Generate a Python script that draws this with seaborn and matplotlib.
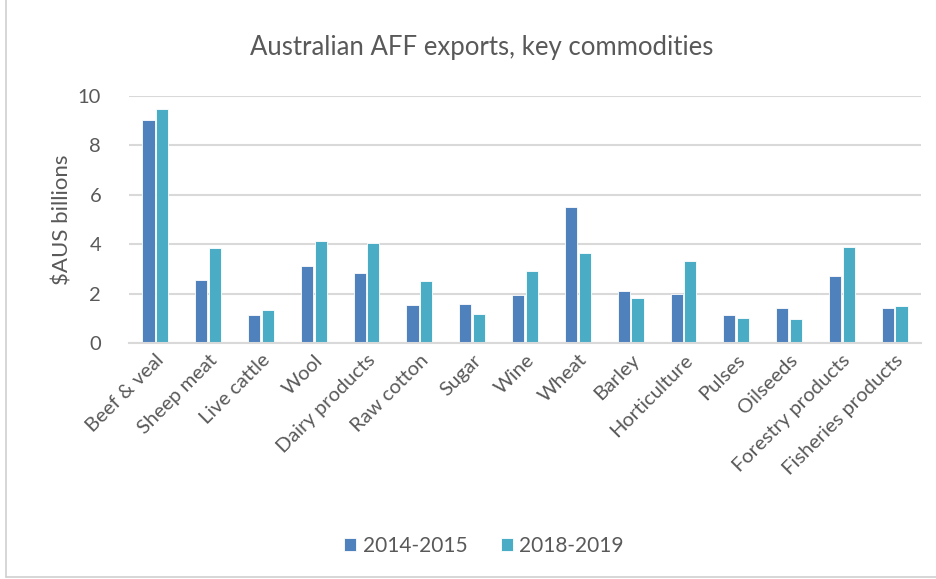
import numpy as np
import pandas as pd
import matplotlib
matplotlib.use("Agg")
import matplotlib.pyplot as plt
import seaborn as sns

# values ($AUS billions)
commodities = ["Beef & veal", "Sheep meat", "Live cattle", "Wool", "Dairy products",
               "Raw cotton", "Sugar", "Wine", "Wheat", "Barley", "Horticulture",
               "Pulses", "Oilseeds", "Forestry products", "Fisheries products"]
exports_2014 = [9.03, 2.57, 1.14, 3.12, 2.85, 1.53, 1.59, 1.95, 5.50, 2.09, 1.99, 1.14, 1.41, 2.73, 1.41]
exports_2018 = [9.46, 3.84, 1.32, 4.14, 4.07, 2.53, 1.19, 2.92, 3.65, 1.81, 3.34, 1.00, 0.96, 3.88, 1.49]
periods = ["2014-2015", "2018-2019"]

df = pd.DataFrame({
    "Commodity": commodities * 2,
    "Period": [periods[0]] * len(commodities) + [periods[1]] * len(commodities),
    "Value": exports_2014 + exports_2018,
})

sns.set_theme(style="white")
plt.rcParams['font.family'] = ['Lato', 'DejaVu Sans']
text_col = "#595959"

fig = plt.figure(figsize=(9.36, 5.79), dpi=100)
ax = fig.add_axes([0.1378, 0.4076, 0.8462, 0.4264])

sns.barplot(data=df, x="Commodity", y="Value", hue="Period",
            palette=["#4F81BD", "#4BACC6"], saturation=1, width=0.52, gap=0.12,
            edgecolor="white", linewidth=0.6, ax=ax)

ax.set_ylim(0, 10)
ax.set_yticks([0, 2, 4, 6, 8, 10])
ax.yaxis.grid(True, color="#D9D9D9", linewidth=1.5)
ax.set_axisbelow(True)
for s in ["top", "right", "left"]:
    ax.spines[s].set_visible(False)
ax.spines["bottom"].set_color("#D9D9D9")
ax.spines["bottom"].set_linewidth(1.5)
ax.tick_params(axis="both", length=0, colors=text_col, labelsize=14.5)
ax.tick_params(axis="y", pad=20)
ax.tick_params(axis="x", pad=6)
plt.setp(ax.get_xticklabels(), rotation=45, ha="right", rotation_mode="anchor")

ax.set_xlabel("")
ax.set_ylabel("$AUS billions", fontsize=16, color=text_col, labelpad=4)
fig.text(0.515, 0.918, "Australian AFF exports, key commodities", ha="center", va="center",
         fontsize=18.5, color=text_col)

leg = ax.legend(loc="center", bbox_to_anchor=(0.517, 0.057), bbox_transform=fig.transFigure,
                ncol=2, frameon=False, fontsize=15, handlelength=0.6, handleheight=0.6,
                handletextpad=0.3, columnspacing=1.6)
for t in leg.get_texts():
    t.set_color(text_col)

# light outer frame like the original screenshot
fig.add_artist(plt.Line2D([0.006, 0.006], [0.003, 1.0], color="#D0D0D0", linewidth=1.2,
                          transform=fig.transFigure))
fig.add_artist(plt.Line2D([0.006, 1.0], [0.004, 0.004], color="#D0D0D0", linewidth=1.2,
                          transform=fig.transFigure))

fig.savefig("out.png", dpi=100)
